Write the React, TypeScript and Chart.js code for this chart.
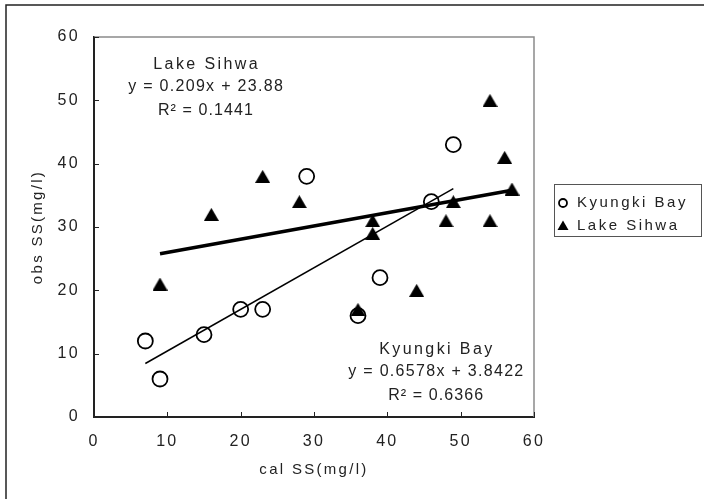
import { useEffect, useRef } from 'react';
import { Chart, registerables } from 'chart.js';
Chart.register(...registerables);

// ---- data ----
const kyungkiX = [7, 9, 15, 20, 23, 29, 36, 39, 46, 49];
const kyungkiY = [12, 6, 13, 17, 17, 38, 16, 22, 34, 43];
const sihwaX = [9, 16, 23, 28, 36, 38, 38, 44, 48, 49, 54, 54, 56, 57];
const sihwaY = [21, 32, 38, 34, 17, 31, 29, 20, 31, 34, 50, 31, 41, 36];
// linear trend coefficients [slope, intercept] shown in the chart
const kyungkiFit = [0.6578, 3.8422];
const sihwaFit = [0.209, 23.88];
const xTicks = [0, 10, 20, 30, 40, 50, 60];
const yTicks = [0, 10, 20, 30, 40, 50, 60];
const seriesNames = ['Kyungki Bay', 'Lake Sihwa'];
const sihwaText = ['Lake Sihwa', 'y = 0.209x + 23.88', 'R\u00B2 = 0.1441'];
const kyungkiText = ['Kyungki Bay', 'y = 0.6578x + 3.8422', 'R\u00B2 = 0.6366'];
const xTitle = 'cal SS(mg/l)';
const yTitle = 'obs SS(mg/l)';

const FONT = "'Liberation Sans', Arial, sans-serif";
const INK = '#222';

function trendPoints(xs: number[], fit: number[]) {
  const lo = Math.min(...xs);
  const hi = Math.max(...xs);
  return [
    { x: lo, y: fit[0] * lo + fit[1] },
    { x: hi, y: fit[0] * hi + fit[1] },
  ];
}

function makeTriangle(w: number, h: number) {
  const c = document.createElement('canvas');
  c.width = w;
  c.height = h;
  const g = c.getContext('2d')!;
  g.fillStyle = '#000';
  g.beginPath();
  g.moveTo(w / 2, 0);
  g.lineTo(w, h);
  g.lineTo(0, h);
  g.closePath();
  g.fill();
  return c;
}

const decor = {
  id: 'decor',
  beforeDraw(chart: any) {
    const ctx = chart.ctx as CanvasRenderingContext2D;
    ctx.save();
    ctx.strokeStyle = INK;
    ctx.lineWidth = 1.5;
    ctx.beginPath();
    ctx.moveTo(6, 499);
    ctx.lineTo(6, 5);
    ctx.lineTo(704, 5);
    ctx.stroke();
    ctx.restore();
    (ctx as any).letterSpacing = '2.3px';
  },
  beforeDatasetsDraw(chart: any) {
    (chart.ctx as any).letterSpacing = '1px';
  },
  afterDraw(chart: any) {
    const ctx = chart.ctx as CanvasRenderingContext2D;
    const xs = chart.scales.x;
    const ys = chart.scales.y;
    const a = chart.chartArea;
    ctx.save();
    (ctx as any).letterSpacing = '0px';
    // top / right frame of the plot area
    ctx.strokeStyle = '#8a8a8a';
    ctx.lineWidth = 1.5;
    ctx.beginPath();
    ctx.moveTo(a.left, a.top);
    ctx.lineTo(a.right, a.top);
    ctx.lineTo(a.right, a.bottom);
    ctx.stroke();
    // inward tick marks
    ctx.strokeStyle = INK;
    ctx.lineWidth = 1;
    ctx.beginPath();
    xTicks.forEach((v) => {
      const px = Math.round(xs.getPixelForValue(v)) + 0.5;
      ctx.moveTo(px, a.bottom);
      ctx.lineTo(px, a.bottom - 5);
    });
    yTicks.forEach((v) => {
      const py = Math.round(ys.getPixelForValue(v)) + 0.5;
      ctx.moveTo(a.left, py);
      ctx.lineTo(a.left + 5, py);
    });
    ctx.stroke();

    // annotations
    ctx.fillStyle = INK;
    ctx.textAlign = 'center';
    ctx.textBaseline = 'middle';
    ctx.font = `16px ${FONT}`;
    const spacing = [2.4, 1.3, 1.1];
    const block = (lines: string[], dx: number, dy: number) => {
      const cx = xs.getPixelForValue(dx);
      const cy = ys.getPixelForValue(dy);
      const offs = [0, 22, 46];
      lines.forEach((t, i) => {
        (ctx as any).letterSpacing = `${spacing[i]}px`;
        ctx.fillText(t, cx + spacing[i] / 2, cy + offs[i]);
      });
    };
    block(sihwaText, 15.2, 55.6);
    block(kyungkiText, 46.6, 10.6);

    // legend
    (ctx as any).letterSpacing = '0px';
    ctx.strokeStyle = '#555';
    ctx.lineWidth = 1;
    ctx.strokeRect(554.5, 184.5, 147, 52);
    ctx.strokeStyle = '#000';
    ctx.lineWidth = 1.8;
    ctx.beginPath();
    ctx.arc(563, 203, 4, 0, Math.PI * 2);
    ctx.stroke();
    ctx.fillStyle = '#000';
    ctx.beginPath();
    ctx.moveTo(563, 220.5);
    ctx.lineTo(568.5, 230);
    ctx.lineTo(557.5, 230);
    ctx.closePath();
    ctx.fill();
    ctx.fillStyle = INK;
    ctx.textAlign = 'left';
    ctx.font = `15px ${FONT}`;
    (ctx as any).letterSpacing = '2.5px';
    ctx.fillText(seriesNames[0], 577, 203);
    ctx.fillText(seriesNames[1], 577, 226);
    ctx.restore();
  },
};

export default function App() {
  const ref = useRef<HTMLCanvasElement | null>(null);
  useEffect(() => {
    if (!ref.current) return;
    const tickFont = { family: FONT, size: 16 };
    const titleFont = { family: FONT, size: 15 };
    const tri = makeTriangle(15, 13);
    const chart = new Chart(ref.current, {
      type: 'scatter',
      data: {
        datasets: [
          {
            label: seriesNames[0],
            data: kyungkiX.map((x, i) => ({ x, y: kyungkiY[i] })),
            pointStyle: 'circle',
            pointRadius: 7.5,
            borderColor: '#000',
            backgroundColor: 'rgba(0,0,0,0)',
            borderWidth: 1.8,
          },
          {
            label: seriesNames[1],
            data: sihwaX.map((x, i) => ({ x, y: sihwaY[i] })),
            pointStyle: tri,
            pointRadius: 8,
            borderColor: '#000',
            backgroundColor: '#000',
            borderWidth: 1,
          },
          {
            label: 'Kyungki trend',
            data: trendPoints(kyungkiX, kyungkiFit),
            showLine: true,
            pointRadius: 0,
            borderColor: '#000',
            borderWidth: 1.5,
          },
          {
            label: 'Sihwa trend',
            data: trendPoints(sihwaX, sihwaFit),
            showLine: true,
            pointRadius: 0,
            borderColor: '#000',
            borderWidth: 3.5,
          },
        ],
      },
      options: {
        responsive: false,
        animation: false,
        devicePixelRatio: 1,
        layout: { padding: { left: 0, top: 37, right: 170, bottom: 0 } },
        plugins: { legend: { display: false }, tooltip: { enabled: false } },
        scales: {
          x: {
            type: 'linear',
            min: 0,
            max: 60,
            afterBuildTicks: (s: any) => { s.ticks = xTicks.map((v) => ({ value: v })); },
            ticks: { font: tickFont, color: INK, padding: 15 },
            grid: { display: false, drawTicks: false },
            border: { color: INK, width: 2 },
            title: { display: true, text: xTitle, font: titleFont, color: INK, padding: { top: 0, bottom: 20 } },
            afterFit: (s: any) => { s.height = 82; },
          },
          y: {
            type: 'linear',
            min: 0,
            max: 60,
            afterBuildTicks: (s: any) => { s.ticks = yTicks.map((v) => ({ value: v })); },
            ticks: { font: tickFont, color: INK, padding: 14 },
            grid: { display: false, drawTicks: false },
            border: { color: INK, width: 2 },
            title: { display: true, text: yTitle, font: titleFont, color: INK, padding: { top: 29, bottom: 0 } },
            afterFit: (s: any) => { s.width = 94; },
          },
        },
      },
      plugins: [decor],
    } as any);
    return () => chart.destroy();
  }, []);
  return (
    <div style={{ position: 'absolute', left: 0, top: 0, width: 704, height: 499, background: '#fff' }}>
      <canvas ref={ref} width={704} height={499} style={{ display: 'block' }} />
    </div>
  );
}
